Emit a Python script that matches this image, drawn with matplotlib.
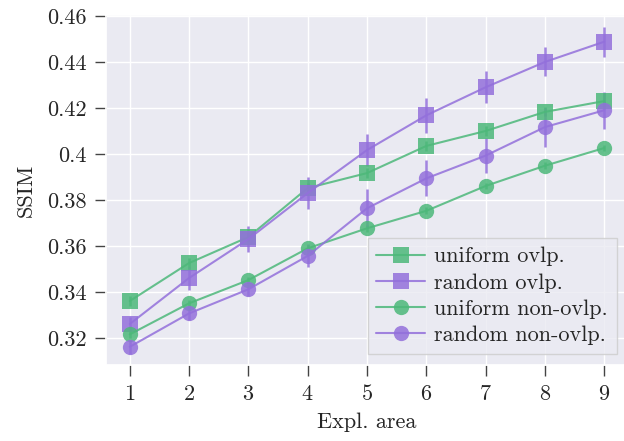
import matplotlib
matplotlib.use("Agg")
import matplotlib.pyplot as plt
import seaborn as sns
from matplotlib.ticker import FuncFormatter

x = [1, 2, 3, 4, 5, 6, 7, 8, 9]
uniform_ovlp = [0.3361, 0.3526, 0.3639, 0.3852, 0.3917, 0.4035, 0.4100, 0.4183, 0.4230]
uniform_ovlp_err = [0.002, 0.002, 0.002, 0.002, 0.002, 0.002, 0.002, 0.002, 0.0035]
random_ovlp = [0.3261, 0.3461, 0.3630, 0.3830, 0.4017, 0.4168, 0.4290, 0.4400, 0.4488]
random_ovlp_err = [0.003, 0.005, 0.0057, 0.007, 0.007, 0.0075, 0.007, 0.0063, 0.0065]
uniform_nonovlp = [0.3216, 0.3351, 0.3452, 0.3590, 0.3677, 0.3753, 0.3861, 0.3949, 0.4026]
uniform_nonovlp_err = [0.0015, 0.0015, 0.0015, 0.0015, 0.0015, 0.0015, 0.0015, 0.0015, 0.0015]
random_nonovlp = [0.3162, 0.3307, 0.3412, 0.3557, 0.3764, 0.3894, 0.3993, 0.4117, 0.4190]
random_nonovlp_err = [0.003, 0.003, 0.003, 0.005, 0.0083, 0.0078, 0.0075, 0.0085, 0.008]
yticks = [0.32, 0.34, 0.36, 0.38, 0.40, 0.42, 0.44, 0.46]

sns.set_theme(style="darkgrid")
plt.rcParams['font.family'] = ['cmr10', 'DejaVu Serif']
plt.rcParams['axes.formatter.use_mathtext'] = True
plt.rcParams['mathtext.fontset'] = 'cm'

green = '#4db87a'
purple = '#9370db'

fig = plt.figure(figsize=(6.24, 4.41), dpi=100)
ax = fig.add_axes([106/624, 1 - 365/441, 522/624, 350/441])

series = [
    (uniform_ovlp, uniform_ovlp_err, green, 's', 'uniform ovlp.'),
    (random_ovlp, random_ovlp_err, purple, 's', 'random ovlp.'),
    (uniform_nonovlp, uniform_nonovlp_err, green, 'o', 'uniform non-ovlp.'),
    (random_nonovlp, random_nonovlp_err, purple, 'o', 'random non-ovlp.'),
]
handles = []
for vals, err, col, mk, lab in series:
    cont = ax.errorbar(x, vals, yerr=err, color=col, marker=mk, markersize=11,
                       linewidth=1.5, elinewidth=1.8, capsize=0, label=lab,
                       markeredgewidth=0, alpha=0.85)
    handles.append(cont.lines[0])

ax.set_xlim(0.6, 9.4)
ax.set_ylim(0.3083, 0.4604)
ax.set_xticks(x)
ax.set_yticks(yticks)
ax.yaxis.set_major_formatter(FuncFormatter(lambda v, p: f"{v:g}"))
ax.tick_params(axis='both', labelsize=16, length=8, width=1, color='#444444',
               bottom=True, left=True, pad=6)
ax.set_xlabel('Expl. area', fontsize=16, labelpad=6)
ax.set_ylabel('SSIM', fontsize=16, labelpad=8)

leg = ax.legend(handles, [s[4] for s in series], loc='lower right', fontsize=16,
                fancybox=False, framealpha=0.8, edgecolor='#cccccc',
                handlelength=2.2, borderaxespad=0.5, borderpad=0.4,
                labelspacing=0.3, handletextpad=0.4)
leg.get_frame().set_facecolor('#eaeaf2')

fig.savefig('out.png', dpi=100)
